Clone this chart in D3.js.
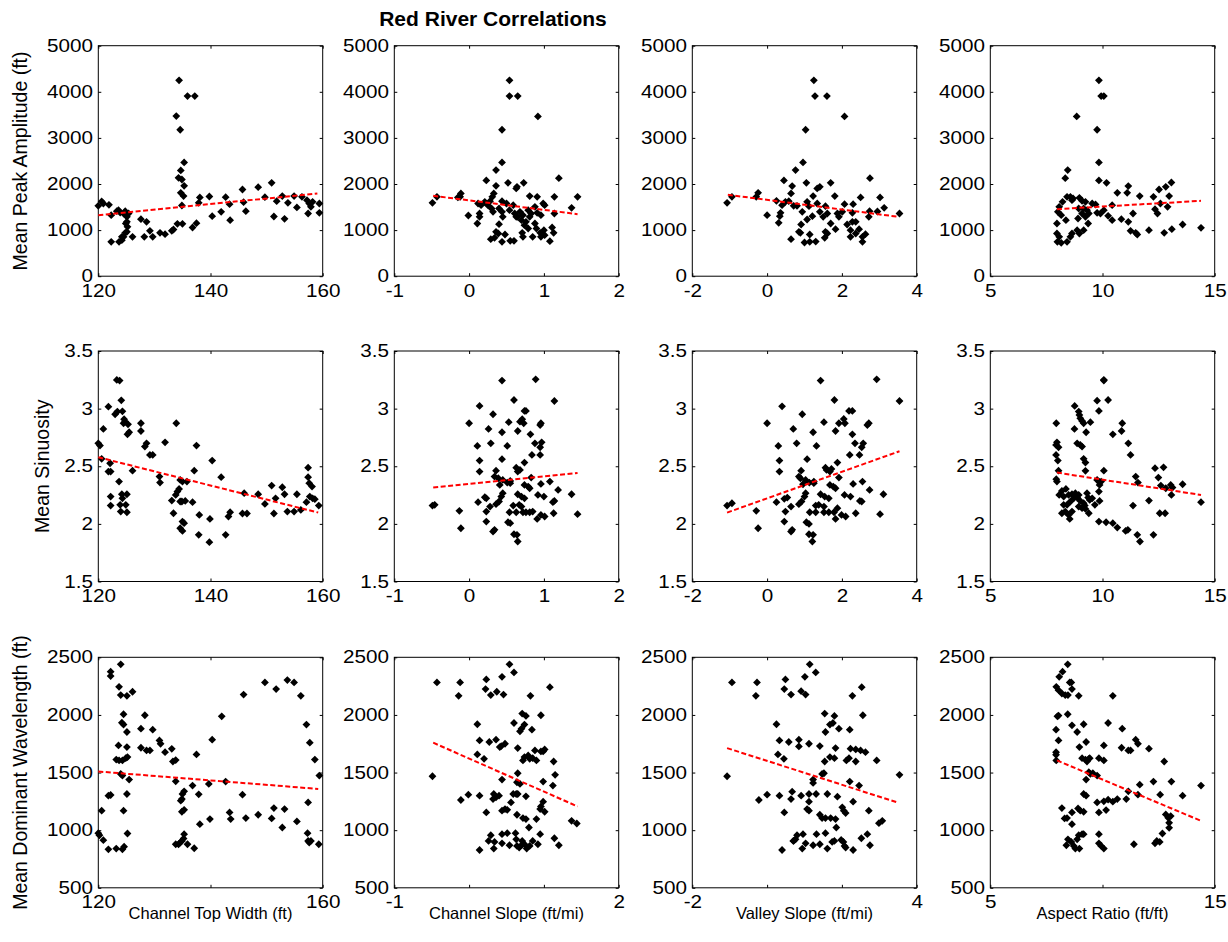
<!DOCTYPE html>
<html><head><meta charset="utf-8">
<script src="https://cdn.jsdelivr.net/npm/d3@7"></script>
<style>body{margin:0;background:#fff} text{font-family:Arial,"Liberation Sans",sans-serif;fill:#000}</style>
</head><body><svg id="c" width="1228" height="942"></svg>
<script>
// ---------- DATA ----------
const xLabels = ["Channel Top Width (ft)","Channel Slope (ft/mi)","Valley Slope (ft/mi)","Aspect Ratio (ft/ft)"];
const yLabels = ["Mean Peak Amplitude (ft)","Mean Sinuosity","Mean Dominant Wavelength (ft)"];
const xDomains = [[120,160],[-1,2],[-2,4],[5,15]];
const yDomains = [[0,5000],[1.5,3.5],[500,2500]];
const xTicks = [[120,140,160],[-1,0,1,2],[-2,0,2,4],[5,10,15]];
const yTicks = [[0,1000,2000,3000,4000,5000],[1.5,2,2.5,3,3.5],[500,1000,1500,2000,2500]];

// Row 1: Mean Peak Amplitude
const ampWidth = [[134.4,4248],[135.9,3907],[137.2,3907],[133.9,3473],[134.6,3177],[135.3,2468],[134.7,2294],[134.3,2135],[134.9,2098],[135.3,1961],[134.7,1809],[135.2,1737],[134.9,1534],[134.1,1136],[135.0,1136],[136.8,1056],[137.5,1150],[138.1,1708],[137.9,1592],[139.8,1729],[140.3,1302],[141.9,1397],[142.7,1715],[143.4,1563],[143.5,1216],[145.7,1881],[145.9,1606],[146.3,1411],[148.5,1932],[149.7,1715],[150.9,2026],[151.3,1295],[151.8,1628],[152.8,1737],[153.2,1245],[153.8,1592],[154.9,1737],[155.4,1491],[156.3,1722],[157.2,1650],[157.6,1577],[157.9,1505],[157.4,1360],[158.2,1614],[159.4,1577],[159.4,1375],[120,1527],[120.6,1621],[120.9,1577],[121.9,1548],[122.3,1324],[123.3,1411],[123.9,1382],[124.8,1411],[125.4,1360],[125.1,1288],[125.1,1179],[125.2,1071],[124.8,941],[124.5,854],[124.2,781],[123.7,745],[122.3,745],[126.1,854],[125.1,962],[127.6,1237],[128.6,1179],[128.2,854],[129.2,984],[129.7,854],[131.0,941],[131.9,912],[133.1,984],[133.4,1013],[123.6,1433],[124.5,1360],[124.9,1143],[124.2,854]];
const ampCSlope = [[0.54,4248],[0.54,3907],[0.65,3907],[0.92,3466],[0.44,3177],[0.44,2468],[0.36,2301],[0.23,2077],[0.36,1961],[0.52,2026],[0.63,1903],[0.73,2026],[1.2,2127],[0.64,1939],[0.33,1795],[0.31,1722],[-0.11,1795],[-0.12,1722],[-0.15,1708],[-0.43,1722],[-0.49,1592],[-0.01,1317],[0.11,1143],[0.14,1360],[0.14,1288],[0.12,1577],[0.16,1541],[0.21,1614],[0.28,1628],[0.25,1541],[0.3,1469],[0.32,1397],[0.4,1469],[0.44,1628],[0.5,1577],[0.44,1397],[0.45,1288],[0.4,1129],[0.36,962],[0.39,926],[0.48,905],[0.29,803],[0.34,832],[0.44,745],[0.55,767],[0.6,767],[0.54,1433],[0.59,1541],[0.61,1360],[0.65,1288],[0.68,1397],[0.7,1216],[0.72,1324],[0.76,1179],[0.79,1433],[0.81,1288],[0.74,1107],[0.79,1035],[0.71,941],[0.72,854],[0.85,854],[0.88,1143],[0.9,1035],[0.91,1375],[0.81,1737],[0.91,1722],[0.99,1577],[1.01,1541],[0.96,1324],[0.95,941],[0.96,854],[1.0,999],[1.01,890],[1.08,760],[1.11,1056],[1.13,941],[1.14,1722],[1.14,1360],[1.37,1483],[1.45,1722],[0.88,1505],[0.83,1360],[0.63,1288]];
const ampVSlope = [[1.25,4248],[1.28,3907],[1.6,3907],[2.07,3466],[1.03,3177],[0.96,2468],[0.76,2301],[0.45,2077],[1.05,2026],[0.67,1954],[0.64,1795],[1.34,1903],[1.41,1939],[1.7,2026],[2.75,2127],[-0.24,1809],[-0.29,1722],[-0.94,1722],[-1.07,1592],[0,1324],[0.31,1158],[0.34,1302],[0.36,1375],[0.25,1635],[0.4,1541],[0.49,1614],[0.58,1628],[0.71,1527],[0.8,1527],[0.94,1397],[1.07,1614],[1.23,1737],[1.12,1520],[1.21,1302],[1.07,1230],[1.34,1577],[1.41,1397],[1.5,1288],[1.56,1520],[1.61,1360],[1.7,1143],[1.81,1737],[1.88,1360],[1.92,1288],[2.01,1397],[2.07,1563],[1.83,1020],[1.56,962],[1.61,926],[1.54,832],[1.14,905],[0.89,941],[0.91,1122],[0.85,962],[0.64,803],[1.0,731],[1.14,745],[1.3,752],[2.14,1122],[2.23,999],[2.28,1179],[2.23,854],[2.3,1563],[2.37,1179],[2.37,926],[2.46,1020],[2.5,1708],[2.55,745],[2.55,854],[2.63,912],[2.72,1288],[2.74,1411],[2.95,1404],[3.02,1708],[3.13,1483],[3.54,1360],[2.28,1375]];
const ampAspect = [[9.84,4248],[9.94,3907],[10.06,3907],[8.85,3466],[9.76,3177],[9.84,2468],[8.45,2301],[8.34,2127],[9.84,2077],[10.18,2026],[8.22,1614],[8.42,1722],[8.57,1722],[8.64,1650],[8.69,1686],[8.97,1700],[9.09,1635],[9.24,1614],[9.54,1577],[9.69,1555],[8.07,1505],[8.01,1397],[8.16,1324],[8.37,1216],[7.97,1143],[7.97,926],[8.07,854],[7.99,745],[8.16,724],[8.42,745],[8.57,854],[8.64,926],[8.87,999],[8.97,926],[9.16,999],[9.36,1143],[8.91,1252],[9.09,1360],[9.24,1288],[9.39,1360],[8.94,1469],[9.16,1469],[9.31,1433],[9.76,1375],[9.91,1360],[10.06,1433],[10.25,1310],[10.43,1216],[10.43,1541],[10.66,1809],[10.84,1237],[11.1,1809],[11.15,1954],[11.15,1179],[11.25,984],[11.36,1360],[11.48,941],[11.55,905],[11.66,1737],[12.07,999],[12.27,1722],[12.34,1454],[12.45,1360],[12.52,1881],[12.75,941],[12.82,1939],[12.9,1505],[12.97,1737],[13.07,2033],[13.09,1020],[13.57,1122],[14.39,1049],[12.58,1577]];

// Row 2: Mean Sinuosity
const sinWidth = [[123.3,3.249],[123.8,3.243],[124.1,3.072],[121.8,3.017],[123.0,2.951],[123.4,2.974],[124.3,2.977],[124.6,2.908],[124.8,2.887],[125.3,2.864],[124.5,2.873],[125.5,2.795],[125.2,2.777],[120.9,2.824],[120,2.699],[120.3,2.679],[127.6,2.873],[127.6,2.806],[128.6,2.699],[128.3,2.671],[129.2,2.598],[129.7,2.598],[131.9,2.708],[133.9,2.873],[137.5,2.679],[140.3,2.549],[120.6,2.564],[122.1,2.526],[121.8,2.454],[122.2,2.454],[126.1,2.462],[123.7,2.367],[122.2,2.237],[122.2,2.159],[124.2,2.257],[125.1,2.257],[124.3,2.222],[123.9,2.165],[124.9,2.165],[124.0,2.107],[125.1,2.101],[130.9,2.41],[131.0,2.358],[133.1,2.202],[133.4,2.092],[133.8,2.251],[134.1,2.28],[134.4,2.303],[134.6,2.381],[135.0,2.367],[135.8,2.367],[134.9,2.194],[135.5,2.199],[134.6,2.194],[135.0,2.02],[135.3,2.006],[134.6,1.962],[135.0,1.939],[136.8,2.188],[137.1,2.462],[138.0,2.078],[137.9,1.905],[139.8,1.841],[139.9,2.043],[141.9,2.405],[142.7,1.905],[143.2,2.064],[143.5,2.101],[145.7,2.09],[146.5,2.09],[146.0,2.266],[148.5,2.257],[149.7,2.173],[150.9,2.332],[151.3,2.09],[151.6,2.222],[152.8,2.318],[153.2,2.257],[153.7,2.107],[154.9,2.107],[155.4,2.257],[156.1,2.121],[157.4,2.488],[157.4,2.405],[157.6,2.353],[158.1,2.324],[157.1,2.188],[157.7,2.237],[158.2,2.222],[158.6,2.214],[159.3,2.159]];
const sinCSlope = [[0.44,3.243],[0.89,3.254],[0.6,3.075],[1.14,3.066],[0.14,3.023],[0.32,2.951],[0,2.873],[0.53,2.882],[0.68,2.887],[0.74,2.98],[0.76,2.98],[0.71,2.908],[0.73,2.873],[0.96,2.873],[0.95,2.858],[0.26,2.824],[0.44,2.795],[0.65,2.806],[0.82,2.777],[0.29,2.699],[0.11,2.676],[0.51,2.676],[0.88,2.699],[0.97,2.708],[0.95,2.665],[0.84,2.598],[0.95,2.598],[0.14,2.549],[0.44,2.561],[0.74,2.532],[0.14,2.454],[0.36,2.462],[0.63,2.488],[0.68,2.468],[0.65,2.454],[0.34,2.41],[0.39,2.396],[0.45,2.381],[0.41,2.338],[0.51,2.358],[0.55,2.373],[0.55,2.353],[0.74,2.338],[0.79,2.324],[0.81,2.309],[0.83,2.402],[0.96,2.347],[1.08,2.367],[1.19,2.295],[1.37,2.257],[0.92,2.251],[1.0,2.237],[0.65,2.257],[0.7,2.237],[0.74,2.222],[0.45,2.266],[0.43,2.237],[0.4,2.194],[0.36,2.171],[0.23,2.222],[0.21,2.231],[0.12,2.188],[0.28,2.15],[0.23,2.107],[-0.13,2.113],[-0.46,2.165],[-0.49,2.159],[-0.11,1.962],[0.23,2.02],[0.32,1.933],[0.34,1.948],[0.52,2.014],[0.55,2.006],[0.6,1.91],[0.64,1.905],[0.65,1.847],[0.54,2.101],[0.59,2.159],[0.63,2.101],[0.67,2.165],[0.7,2.15],[0.72,2.101],[0.76,2.101],[0.81,2.101],[0.85,2.107],[0.91,2.043],[0.96,2.078],[1.01,2.064],[1.13,2.092],[1.14,2.199],[1.12,2.188],[1.45,2.084]];
const sinVSlope = [[1.43,3.243],[2.93,3.254],[1.8,3.075],[3.54,3.066],[0.4,3.02],[0.94,2.951],[0,2.873],[1.52,2.882],[2.05,2.91],[2.08,2.873],[2.19,2.98],[2.28,2.98],[1.92,2.873],[2.72,2.873],[2.68,2.858],[0.7,2.824],[1.23,2.795],[1.83,2.806],[2.28,2.777],[0.79,2.699],[0.3,2.676],[1.32,2.676],[2.35,2.699],[2.57,2.699],[2.53,2.665],[2.21,2.598],[2.47,2.598],[0.33,2.549],[1.07,2.561],[1.88,2.532],[0.33,2.454],[0.91,2.462],[1.56,2.488],[1.59,2.468],[1.72,2.477],[1.68,2.454],[0.85,2.41],[0.89,2.396],[1.03,2.381],[0.96,2.344],[1.13,2.358],[1.25,2.367],[1.25,2.353],[1.68,2.338],[1.77,2.324],[1.83,2.309],[1.92,2.402],[2.3,2.347],[2.55,2.367],[2.74,2.295],[3.11,2.257],[2.07,2.251],[2.23,2.237],[1.43,2.257],[1.54,2.237],[1.65,2.222],[1.03,2.266],[1.0,2.237],[0.92,2.194],[0.85,2.171],[0.54,2.228],[0.46,2.217],[0.25,2.188],[0.64,2.15],[0.49,2.107],[-0.29,2.113],[-0.94,2.179],[-1.07,2.159],[-0.24,1.962],[0.46,2.02],[0.64,1.933],[0.67,1.948],[1.05,2.014],[1.12,2.0],[1.12,1.91],[1.23,1.905],[1.21,1.847],[1.14,2.101],[1.3,2.159],[1.3,2.101],[1.38,2.165],[1.52,2.15],[1.52,2.101],[1.65,2.101],[1.79,2.101],[1.88,2.136],[1.83,2.043],[1.99,2.078],[2.1,2.064],[2.37,2.092],[2.48,2.199],[2.53,2.194],[3.02,2.084]];
const sinAspect = [[10.06,3.243],[10.06,3.25],[9.76,3.069],[10.25,3.075],[9.84,2.98],[8.76,3.023],[8.94,2.974],[8.97,2.945],[9.01,2.916],[9.09,2.893],[9.16,2.873],[9.46,2.882],[7.94,2.873],[8.75,2.824],[9.27,2.795],[10.46,2.777],[10.88,2.873],[10.85,2.806],[11.15,2.699],[11.25,2.598],[7.97,2.708],[7.93,2.685],[8.04,2.665],[8.87,2.699],[9.01,2.685],[9.09,2.671],[7.93,2.598],[8.01,2.549],[9.16,2.564],[9.24,2.532],[8.04,2.462],[9.24,2.46],[10.06,2.462],[7.94,2.387],[7.97,2.367],[9.76,2.381],[9.84,2.367],[9.94,2.367],[9.87,2.338],[11.48,2.41],[11.58,2.358],[12.34,2.483],[12.72,2.491],[12.49,2.402],[12.6,2.332],[12.82,2.309],[13.04,2.338],[13.12,2.315],[13.07,2.251],[13.57,2.344],[14.39,2.188],[12.07,2.202],[11.36,2.159],[12.55,2.092],[12.79,2.092],[9.84,2.28],[9.87,2.199],[9.66,2.165],[8.07,2.251],[8.19,2.286],[8.37,2.303],[8.27,2.237],[8.49,2.251],[8.64,2.257],[8.79,2.266],[8.94,2.251],[9.31,2.266],[9.36,2.228],[9.43,2.208],[9.54,2.222],[8.27,2.165],[8.42,2.165],[8.57,2.194],[8.72,2.222],[8.87,2.228],[8.19,2.092],[8.34,2.107],[8.49,2.078],[8.64,2.107],[8.54,2.043],[8.94,2.15],[9.09,2.136],[9.24,2.13],[9.39,2.092],[9.21,2.159],[9.01,2.199],[9.16,2.179],[9.84,2.02],[10.16,2.014],[10.46,2.006],[10.66,1.968],[11.03,1.939],[11.13,1.948],[11.55,1.905],[11.67,1.847],[12.27,1.905]];

// Row 3: Mean Dominant Wavelength
const wavWidth = [[124.0,2439],[122.2,2375],[122.2,2337],[123.7,2244],[124.0,2172],[125.1,2166],[126.1,2201],[124.5,2006],[124.2,1933],[124.5,1916],[125.1,1852],[123.6,1735],[125.1,1721],[123.2,1613],[123.7,1605],[124.3,1605],[124.9,1625],[125.2,1634],[124.0,1488],[124.3,1474],[125.5,1439],[125.1,1314],[121.8,1299],[122.2,1305],[120.6,1169],[124.5,1169],[120,974],[120.2,956],[120.9,913],[121.8,834],[123.2,840],[124.3,834],[124.6,857],[125.2,971],[127.6,1881],[128.3,1997],[129.7,1872],[127.6,1715],[128.6,1692],[129.2,1692],[130.9,1779],[131.1,1750],[131.9,1677],[133.1,1706],[133.3,1596],[133.8,1608],[133.8,1424],[135.3,1337],[135.0,1314],[134.9,1270],[134.7,1256],[135.3,1177],[134.9,1160],[136.8,1387],[137.5,1657],[137.9,1311],[135.3,965],[135.2,927],[134.6,892],[134.3,878],[133.8,878],[134.9,907],[135.9,878],[137.1,843],[138.1,1052],[139.7,1401],[139.9,1096],[140.3,1785],[142.0,1988],[142.7,1422],[143.4,1154],[143.6,1096],[145.7,1308],[145.9,2177],[146.3,1105],[148.5,1134],[149.7,2282],[150.9,1102],[151.3,1192],[151.7,2224],[152.8,1023],[153.2,1183],[153.7,2302],[154.9,2282],[155.4,1076],[156.1,2166],[157.1,1916],[157.7,1759],[158.6,1613],[159.4,1474],[157.4,1241],[157.3,974],[157.4,907],[157.6,892],[157.9,907],[159.3,878]];
const wavCSlope = [[0.54,2439],[0.6,2369],[0.44,2331],[0.23,2308],[-0.43,2282],[-0.12,2282],[1.08,2241],[0.22,2224],[0.37,2201],[0.29,2172],[0.46,2177],[-0.14,2166],[0.82,2166],[0.71,2012],[0.76,1991],[0.96,1997],[0.6,1930],[0.11,1919],[0.74,1916],[0.7,1881],[0.68,1858],[0.84,1872],[0.14,1779],[0.36,1785],[0.27,1765],[0.48,1750],[0.43,1730],[0.41,1721],[0.65,1712],[0.88,1692],[0.96,1683],[1.01,1701],[0.99,1683],[0.79,1648],[0.74,1634],[0.72,1605],[0.81,1619],[0.85,1625],[0.9,1605],[0.11,1657],[0.2,1619],[1.13,1596],[0.65,1494],[1.15,1480],[-0.49,1468],[0.44,1439],[0.64,1416],[0.68,1401],[0.99,1422],[1.12,1387],[-0.01,1308],[-0.11,1262],[0.14,1299],[0.33,1314],[0.36,1285],[0.32,1270],[0.4,1299],[0.59,1314],[0.63,1314],[0.65,1314],[0.56,1241],[0.76,1294],[0.99,1247],[0.96,1206],[0.95,1183],[1.01,1160],[0.44,1169],[0.48,1183],[0.51,1177],[0.23,1154],[0.64,1134],[0.72,1105],[0.76,1096],[0.9,1096],[0.8,1023],[1.37,1081],[1.44,1058],[0.95,965],[0.29,956],[0.26,907],[0.34,898],[0.33,840],[0.44,965],[0.51,974],[0.44,886],[0.54,869],[0.62,974],[0.14,828],[0.64,863],[0.67,849],[0.7,869],[0.74,878],[0.77,840],[0.81,863],[0.85,907],[0.71,907],[0.92,878],[1.14,930],[1.2,869],[0.63,921]];
const wavVSlope = [[1.14,2439],[1.3,2369],[1.01,2331],[0.49,2308],[-0.94,2282],[-0.27,2282],[2.53,2241],[0.46,2224],[0.91,2206],[1.03,2177],[0.64,2177],[-0.3,2166],[2.28,2166],[1.54,2012],[1.8,1991],[2.56,1997],[0.25,1919],[1.76,1930],[1.68,1916],[1.56,1852],[1.92,1881],[2.21,1872],[0.33,1779],[0.85,1785],[0.85,1727],[0.58,1765],[1.12,1750],[1.41,1730],[1.83,1712],[2.23,1707],[2.37,1701],[2.5,1692],[2.63,1677],[1.68,1634],[1.8,1625],[0.29,1657],[0.45,1619],[1.54,1596],[2.12,1605],[2.19,1625],[2.37,1596],[2.93,1605],[1.47,1488],[1.52,1494],[-1.07,1468],[3.54,1480],[1.23,1439],[1.23,1410],[2.21,1422],[2.46,1387],[0,1308],[-0.22,1262],[0.33,1299],[0.67,1334],[0.64,1270],[0.91,1299],[1.12,1314],[1.31,1314],[1.61,1314],[1.12,1247],[1.88,1291],[2.01,1198],[2.05,1169],[2.1,1148],[2.3,1247],[0.46,1154],[1.07,1183],[1.12,1169],[1.41,1134],[1.47,1105],[1.56,1105],[1.7,1105],[1.83,1096],[2.72,1169],[2.99,1061],[3.08,1081],[1.85,1023],[0.96,965],[0.8,956],[0.76,921],[0.71,907],[0.7,907],[1.32,965],[1.56,974],[1.03,886],[0.94,840],[0.4,828],[1.23,869],[1.41,878],[1.61,840],[1.74,898],[1.8,907],[1.98,915],[2.04,898],[2.07,863],[2.1,849],[2.3,828],[2.52,930],[2.68,965],[2.75,869]];
const wavAspect = [[8.45,2439],[8.22,2375],[8.07,2331],[7.94,2244],[8.04,2215],[8.19,2186],[8.34,2172],[8.46,2172],[8.54,2282],[8.61,2282],[8.64,2224],[8.94,2166],[10.46,2166],[8.04,1994],[7.99,1988],[8.45,2006],[8.64,1910],[9.16,1919],[10.25,1930],[10.88,1881],[7.93,1872],[8.87,1852],[8.04,1779],[9.27,1765],[8.97,1721],[10.06,1735],[10.85,1715],[11.15,1692],[11.25,1692],[11.48,1785],[11.58,1750],[12.07,1707],[7.93,1677],[7.93,1654],[7.94,1605],[9.09,1625],[9.24,1613],[9.39,1619],[9.31,1596],[9.43,1625],[9.84,1625],[10.06,1605],[12.75,1596],[9.39,1503],[9.46,1488],[9.57,1494],[9.27,1439],[9.76,1474],[11.66,1395],[12.27,1422],[13.07,1422],[14.39,1387],[11.15,1337],[11.06,1270],[11.58,1308],[12.57,1308],[13.57,1299],[9.16,1314],[9.27,1299],[9.76,1241],[10.06,1250],[10.25,1265],[10.46,1247],[10.66,1270],[10.16,1174],[9.84,1154],[8.19,1192],[8.31,1102],[8.42,1105],[8.64,1154],[8.64,1052],[8.91,1189],[9.01,1169],[9.16,1160],[12.82,1137],[12.93,1108],[13.04,1122],[12.97,1064],[12.97,1020],[12.67,971],[12.42,907],[12.55,898],[12.34,886],[11.4,878],[9.09,965],[9.16,965],[8.87,921],[8.94,956],[8.39,869],[8.46,921],[8.61,898],[8.72,863],[8.79,840],[8.97,840],[9.84,965],[9.84,886],[9.94,863],[10.06,840]];

// Trend line end points
const trends = [
  [[[120,1324],[159.05,1795]], [[-0.48,1744],[1.45,1346]], [[-1.05,1766],[3.51,1288]], [[7.97,1454],[14.39,1635]]],
  [[[120,2.578],[159.2,2.098]], [[-0.48,2.315],[1.45,2.442]], [[-1.07,2.098],[3.54,2.63]], [[7.97,2.445],[14.39,2.251]]],
  [[[120,1509],[159.2,1358]], [[-0.48,1759],[1.45,1206]], [[-1.07,1712],[3.48,1241]], [[7.97,1605],[14.39,1081]]]
];
const points = [
  [ampWidth, ampCSlope, ampVSlope, ampAspect],
  [sinWidth, sinCSlope, sinVSlope, sinAspect],
  [wavWidth, wavCSlope, wavVSlope, wavAspect]
];
const title = "Red River Correlations";

// ---------- LAYOUT ----------
const svg = d3.select("#c");
const L = [98.3, 394.3, 692.3, 990.3], T = [45.7, 351, 657.3], W = 224.4, H = 230.5;
const TICK_FS = 17.5, TICK_SX = 1.18;

for (let r = 0; r < 3; r++) {
  for (let c = 0; c < 4; c++) {
    const x = d3.scaleLinear().domain(xDomains[c]).range([L[c], L[c] + W]);
    const y = d3.scaleLinear().domain(yDomains[r]).range([T[r] + H, T[r]]);
    const g = svg.append("g");
    const fmt = d => String(d);
    const ends = xTicks[c];
    const xfmt = r === 2 ? (d => (d === ends[0] || d === ends[ends.length - 1]) ? String(d) : "") : fmt;
    const ab = g.append("g").attr("transform", `translate(0,${T[r]+H})`)
      .call(d3.axisBottom(x).tickValues(xTicks[c]).tickSizeInner(-3).tickSizeOuter(0).tickPadding(8).tickFormat(xfmt));
    const at = g.append("g").attr("transform", `translate(0,${T[r]})`)
      .call(d3.axisTop(x).tickValues(xTicks[c]).tickSizeInner(-3).tickSizeOuter(0).tickFormat(""));
    const al = g.append("g").attr("transform", `translate(${L[c]},0)`)
      .call(d3.axisLeft(y).tickValues(yTicks[r]).tickSizeInner(-3).tickSizeOuter(0).tickPadding(4.5).tickFormat(fmt));
    const ar = g.append("g").attr("transform", `translate(${L[c]+W},0)`)
      .call(d3.axisRight(y).tickValues(yTicks[r]).tickSizeInner(-3).tickSizeOuter(0).tickFormat(""));
    [ab, at, al, ar].forEach(a => {
      a.select(".domain").remove();
      a.selectAll("line").attr("stroke", "#000");
      a.selectAll("text").filter(function(){ return this.textContent === ""; }).remove();
      a.selectAll("text").attr("font-size", TICK_FS).attr("font-family", "Arial, 'Liberation Sans', sans-serif")
        .attr("fill", "#000").attr("transform", `scale(${TICK_SX},1)`);
    });
    g.append("rect").attr("x", L[c]).attr("y", T[r]).attr("width", W).attr("height", H)
      .attr("fill", "none").attr("stroke", "#000").attr("stroke-width", 1);

    const rr = 3.9;
    g.append("g").selectAll("path").data(points[r][c]).join("path")
      .attr("d", d => { const px = x(d[0]), py = y(d[1]); return `M${px},${py-rr}L${px+rr},${py}L${px},${py+rr}L${px-rr},${py}Z`; })
      .attr("fill", "#000");

    g.append("path").datum(trends[r][c])
      .attr("d", d3.line().x(d => x(d[0])).y(d => y(d[1])))
      .attr("stroke", "#ff0000").attr("stroke-width", 2).attr("stroke-dasharray", "5,2.5").attr("fill", "none");
  }
}

// x labels
xLabels.forEach((t, c) => {
  svg.append("text").attr("x", L[c] + W / 2).attr("y", 919).attr("text-anchor", "middle").attr("font-size", 16.5).text(t);
});
// y labels
const yLabX = [27, 49, 27];
yLabels.forEach((t, r) => {
  svg.append("text").attr("transform", `translate(${yLabX[r]},${T[r] + H / 2}) rotate(-90)`)
    .attr("text-anchor", "middle").attr("font-size", 19.5).text(t);
});
// title
svg.append("text").attr("x", 493).attr("y", 26).attr("text-anchor", "middle")
  .attr("font-size", 21).attr("font-weight", "bold").text(title);
</script></body></html>
